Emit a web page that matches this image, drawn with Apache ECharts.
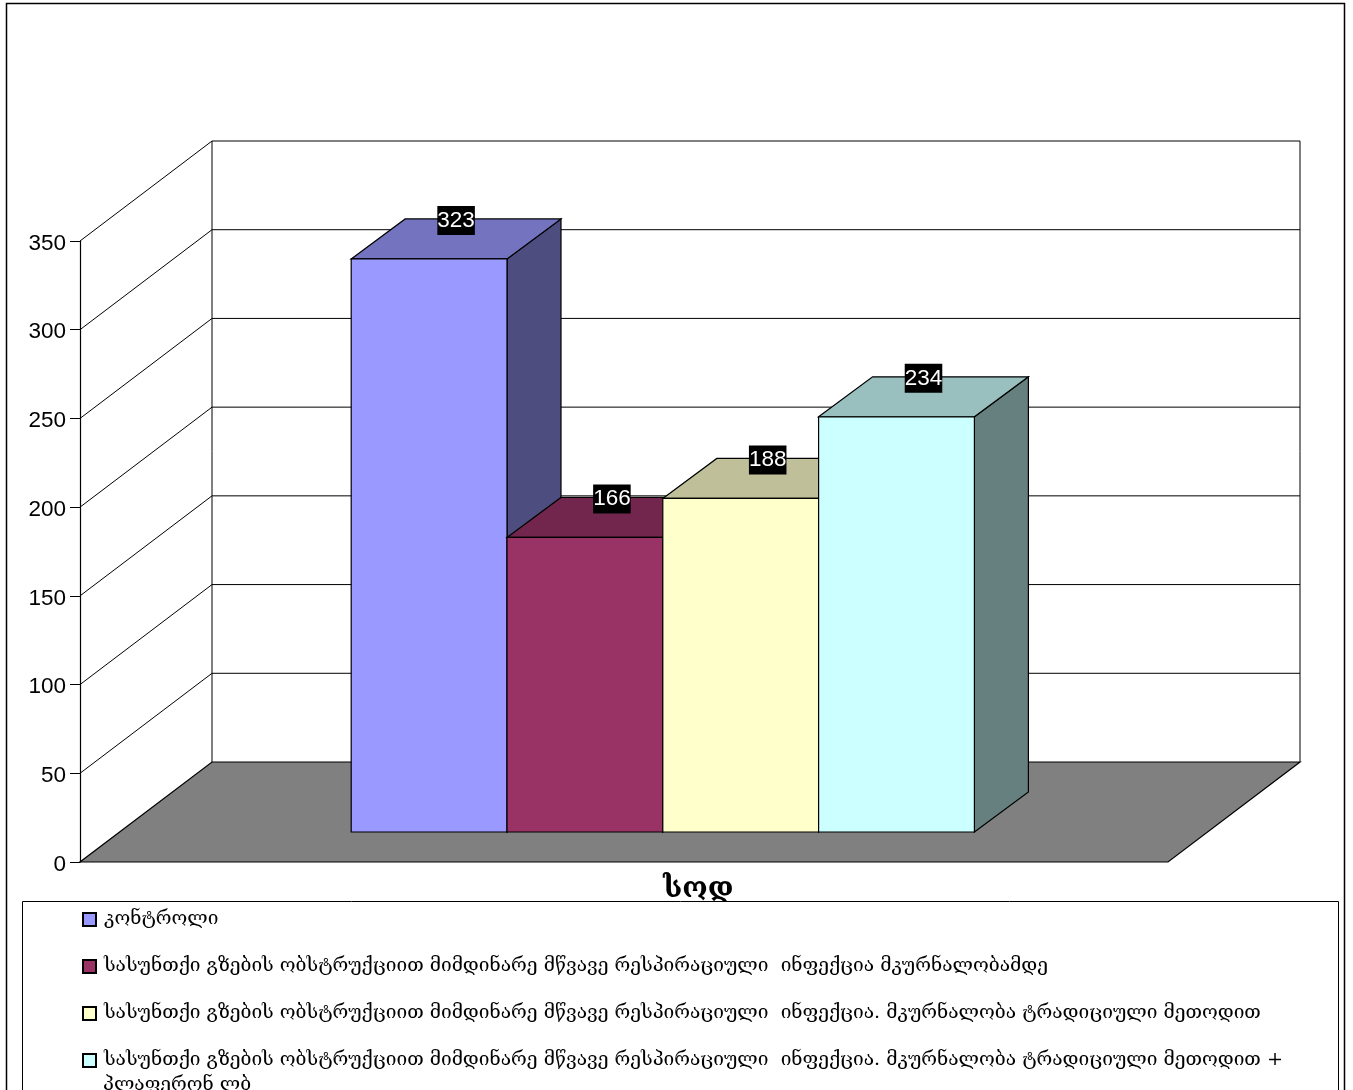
<!DOCTYPE html>
<html>
<head>
<meta charset="utf-8">
<style>
  html, body { margin: 0; padding: 0; background: #fff; overflow: hidden; }
  #chart { width: 1353px; height: 1090px; }
</style>
<script src="https://cdn.jsdelivr.net/npm/echarts@6/dist/echarts.min.js"></script>
</head>
<body>
<div id="chart"></div>
<script>
// Chart data
const categories = ['სოდ'];
const seriesNames = [
  'კონტროლი',
  'სასუნთქი გზების ობსტრუქციით მიმდინარე მწვავე რესპირაციული  ინფექცია მკურნალობამდე',
  'სასუნთქი გზების ობსტრუქციით მიმდინარე მწვავე რესპირაციული  ინფექცია. მკურნალობა ტრადიციული მეთოდით',
  'სასუნთქი გზების ობსტრუქციით მიმდინარე მწვავე რესპირაციული  ინფექცია. მკურნალობა ტრადიციული მეთოდით +'
];
const seriesWrapLine = 'პლაფერონ ლბ';
const seriesValues = [323, 166, 188, 234];
const frontColors = ['#9999FF', '#993366', '#FFFFCC', '#CCFFFF'];
const topColors = ['#7373BF', '#73264D', '#BFBF99', '#99BFBF'];
const sideColors = ['#4D4D80', '#4D1A33', '#808066', '#668080'];
const yTicks = [0, 50, 100, 150, 200, 250, 300, 350];

// Oblique projection of the 3D box
const WALL_DX = 132, WALL_DY = -100;   // offset of the back wall from the front plane
const BAR_NEAR = 0.3;                  // depth at which the bars' front faces sit
const BAR_DX = 54, BAR_DY = -40;       // depth offset of a bar's back face
const BAR_SHARE = 0.1432;              // bar width as a share of the category band
const CLUSTER_SHIFT = -0.8;            // horizontal nudge of the bar cluster
const LEGEND_FONT = 'DejaVu Serif';
const LEGEND_SIZE = 19.15;

function line(x1, y1, x2, y2) {
  return { type: 'line', shape: { x1, y1, x2, y2 }, style: { stroke: '#000', lineWidth: 1 }, silent: true };
}
function poly(points, fill) {
  return { type: 'polygon', shape: { points }, style: { fill, stroke: '#000', lineWidth: 1.2 }, silent: true };
}

// Floor, side wall, back wall and their grid lines, one item per axis tick
function renderWalls(params, api) {
  const tick = api.value(0);
  const box = params.coordSys;
  const left = box.x, right = box.x + box.width;
  const y = api.coord([0, tick])[1];
  const children = [];
  if (tick === 0) {
    children.push(poly([
      [left, y], [right, y], [right + WALL_DX, y + WALL_DY], [left + WALL_DX, y + WALL_DY]
    ], '#808080'));
    const yTop = api.coord([0, yTicks[yTicks.length - 1]])[1];
    children.push(line(left + WALL_DX, y + WALL_DY, left + WALL_DX, yTop + WALL_DY));
    children.push(line(right + WALL_DX, y + WALL_DY, right + WALL_DX, yTop + WALL_DY));
  } else {
    children.push(line(left, y, left + WALL_DX, y + WALL_DY));
    children.push(line(left + WALL_DX, y + WALL_DY, right + WALL_DX, y + WALL_DY));
  }
  return { type: 'group', children };
}

// One oblique box for one series, with its value tag
function barRenderer(index) {
  return function (params, api) {
    const cat = api.value(0), val = api.value(1);
    const band = api.size([1, 0])[0];
    const barW = band * BAR_SHARE;
    const center = api.coord([cat, 0])[0];
    const yBase = api.coord([cat, 0])[1] + WALL_DY * BAR_NEAR;
    const yTop = api.coord([cat, val])[1] + WALL_DY * BAR_NEAR;
    const xL = center - 2 * barW + index * barW + WALL_DX * BAR_NEAR + CLUSTER_SHIFT;
    const xR = xL + barW;
    const dx = BAR_DX, dy = BAR_DY;
    return {
      type: 'group',
      children: [
        poly([[xR, yBase], [xR + dx, yBase + dy], [xR + dx, yTop + dy], [xR, yTop]], sideColors[index]),
        poly([[xL, yTop], [xL + dx, yTop + dy], [xR + dx, yTop + dy], [xR, yTop]], topColors[index]),
        poly([[xL, yBase], [xR, yBase], [xR, yTop], [xL, yTop]], frontColors[index]),
        {
          type: 'text',
          z2: 50,
          silent: true,
          style: {
            x: (xL + xR) / 2 + dx / 2,
            y: yTop + dy + 1.5,
            text: String(val),
            fill: '#fff',
            font: '22.5px "Liberation Sans"',
            align: 'center',
            verticalAlign: 'middle',
            backgroundColor: '#000',
            padding: [5, 0, 1, 0]
          }
        }
      ]
    };
  };
}

const barSeries = seriesNames.map((name, i) => ({
  type: 'custom',
  name,
  z: 3,
  renderItem: barRenderer(i),
  encode: { x: 0, y: 1 },
  itemStyle: { color: frontColors[i], borderColor: '#000', borderWidth: 1 },
  data: [[0, seriesValues[i]]]
}));

const chart = echarts.init(document.getElementById('chart'), null, { renderer: 'canvas', width: 1353, height: 1090 });
chart.setOption({
  animation: false,
  backgroundColor: '#fff',
  title: {
    text: categories[0],
    left: 663,
    top: 875,
    padding: 0,
    z: 1,
    textStyle: { fontFamily: LEGEND_FONT, fontSize: 29, fontWeight: 'bold', color: '#000' }
  },
  grid: { left: 80, top: 241, width: 1088, height: 621, containLabel: false },
  xAxis: {
    type: 'category',
    data: categories,
    axisLine: { show: false },
    axisTick: { show: false },
    axisLabel: { show: false },
    splitLine: { show: false }
  },
  yAxis: {
    type: 'value',
    min: 0,
    max: 350,
    interval: 50,
    axisLine: { show: true, lineStyle: { color: '#000', width: 1.2 } },
    axisTick: { show: true, length: 10, lineStyle: { color: '#000', width: 1 } },
    axisLabel: {
      margin: 14,
      formatter: '{n|{value}}',
      rich: { n: { color: '#000', fontSize: 22.5, fontFamily: 'Liberation Sans', padding: [5, 0, 0, 0] } }
    },
    splitLine: { show: false }
  },
  legend: {
    orient: 'vertical',
    left: 82,
    top: 910,
    padding: 0,
    itemWidth: 13,
    itemHeight: 13,
    itemGap: 28,
    icon: 'rect',
    selectedMode: false,
    data: seriesNames,
    textStyle: { fontFamily: LEGEND_FONT, fontSize: LEGEND_SIZE, color: '#000', padding: [0, 0, 0, 3] }
  },
  graphic: [
    {
      type: 'rect', z: 0, silent: true,
      shape: { x: 6.5, y: 3.5, width: 1338, height: 1200 },
      style: { fill: 'none', stroke: '#000', lineWidth: 1.5 }
    },
    {
      type: 'rect', z: 2, silent: true,
      shape: { x: 22.5, y: 901.5, width: 1316, height: 300 },
      style: { fill: '#fff', stroke: '#000', lineWidth: 1 }
    },
    {
      type: 'text', z: 5, silent: true,
      x: 103, y: 1085,
      style: { text: seriesWrapLine, font: LEGEND_SIZE + 'px "' + LEGEND_FONT + '"', fill: '#000', verticalAlign: 'middle' }
    }
  ],
  series: [
    {
      type: 'custom',
      name: 'walls',
      z: 1,
      renderItem: renderWalls,
      encode: { y: 0 },
      data: yTicks.map(t => [t])
    },
    ...barSeries
  ]
});
</script>
</body>
</html>
